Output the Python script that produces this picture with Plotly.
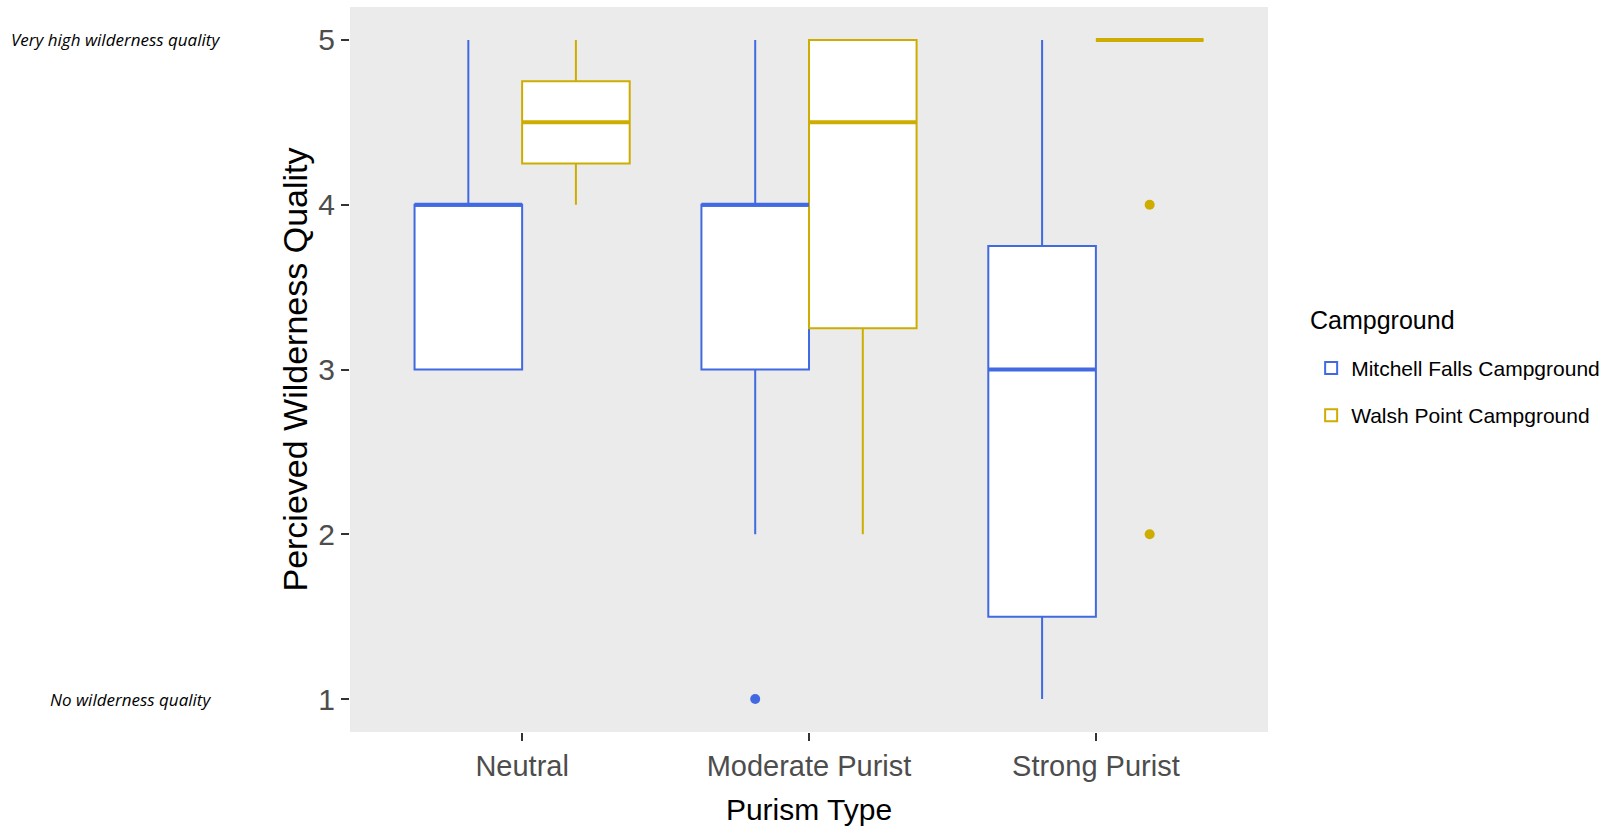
import plotly.graph_objects as go

# Purism groups along the x axis
categories = ["Neutral", "Moderate Purist", "Strong Purist"]
y_ticks = [1, 2, 3, 4, 5]

# Box statistics per campground (one entry per purism group)
mitchell_lower = [3, 2, 1]
mitchell_q1 = [3, 3, 1.5]
mitchell_median = [4, 4, 3]
mitchell_q3 = [4, 4, 3.75]
mitchell_upper = [5, 5, 5]
mitchell_outlier_group = [1]   # index into categories
mitchell_outlier_value = [1]

walsh_lower = [4, 2, 5]
walsh_q1 = [4.25, 3.25, 5]
walsh_median = [4.5, 4.5, 5]
walsh_q3 = [4.75, 5, 5]
walsh_upper = [5, 5, 5]
walsh_outlier_group = [2, 2]
walsh_outlier_value = [4, 2]

BLUE = "#4169E1"
GOLD = "#CDAD00"
FONT = "Liberation Sans, Arial, sans-serif"

DODGE = 0.75          # total width of a dodged pair
BOX_W = DODGE / 2     # width of a single box

fig = go.Figure()

series = [
    ("Mitchell Falls Campground", BLUE, -1, mitchell_lower, mitchell_q1, mitchell_median,
     mitchell_q3, mitchell_upper, mitchell_outlier_group, mitchell_outlier_value),
    ("Walsh Point Campground", GOLD, 1, walsh_lower, walsh_q1, walsh_median,
     walsh_q3, walsh_upper, walsh_outlier_group, walsh_outlier_value),
]

for name, color, side, lo, q1, med, q3, hi, og, ov in series:
    xs = [i + 1 + side * BOX_W / 2 for i in range(len(categories))]
    fig.add_trace(go.Box(
        name=name, legendgroup=name, x=xs, q1=q1, median=med, q3=q3,
        lowerfence=lo, upperfence=hi, width=BOX_W,
        boxpoints=False, whiskerwidth=0,
        fillcolor="white", line=dict(color=color, width=2),
        hoverinfo="skip",
    ))
    # thicker median bar, as in ggplot's boxplot
    mx, my = [], []
    for x, m in zip(xs, med):
        mx += [x - BOX_W / 2, x + BOX_W / 2, None]
        my += [m, m, None]
    fig.add_trace(go.Scatter(x=mx, y=my, mode="lines", line=dict(color=color, width=4),
                             legendgroup=name, showlegend=False, hoverinfo="skip"))
    # outlying responses
    fig.add_trace(go.Scatter(
        x=[xs[g] for g in og], y=ov, mode="markers", legendgroup=name,
        marker=dict(color=color, size=10), showlegend=False, hoverinfo="skip",
    ))

fig.update_layout(
    width=1607, height=830,
    margin=dict(l=350, r=339, t=7, b=98, autoexpand=False),
    plot_bgcolor="#EBEBEB", paper_bgcolor="white",
    boxmode="overlay",
    font=dict(family=FONT, color="black"),
    legend=dict(
        font=dict(size=21, color="black"),
        x=1.047, xanchor="left", y=0.530, yanchor="top",
        tracegroupgap=17, itemwidth=30,
    ),
    xaxis=dict(
        range=[0.4, 3.6], tickvals=[1, 2, 3], ticktext=categories,
        showgrid=False, zeroline=False, ticks="outside", ticklen=8,
        tickwidth=2, tickcolor="#333333",
        tickfont=dict(size=29, color="#4D4D4D", family=FONT),
        title=dict(text="Purism Type", font=dict(size=30, color="black"), standoff=18),
    ),
    yaxis=dict(
        range=[0.8, 5.2], tickvals=y_ticks,
        showgrid=False, zeroline=False, ticks="outside", ticklen=8,
        tickwidth=2, tickcolor="#333333",
        tickfont=dict(size=30, color="#4D4D4D", family=FONT),
        title=dict(text="Percieved Wilderness Quality", font=dict(size=34, color="black"),
                   standoff=0),
    ),
)

# legend heading
fig.add_annotation(text="Campground", xref="paper", yref="paper",
                   x=1.0436, y=0.568, xanchor="left", yanchor="middle", showarrow=False,
                   font=dict(family=FONT, size=25, color="black"))

# scale anchors beside the y axis
fig.add_annotation(text="<i>Very high wilderness quality</i>", xref="paper", yref="y",
                   x=-0.372, y=5, xanchor="left", yanchor="middle", showarrow=False,
                   font=dict(family="Open Sans, sans-serif", size=17, color="black"))
fig.add_annotation(text="<i>No wilderness quality</i>", xref="paper", yref="y",
                   x=-0.329, y=1, xanchor="left", yanchor="middle", showarrow=False,
                   font=dict(family="Open Sans, sans-serif", size=17, color="black"))

fig.write_html("out.html")
